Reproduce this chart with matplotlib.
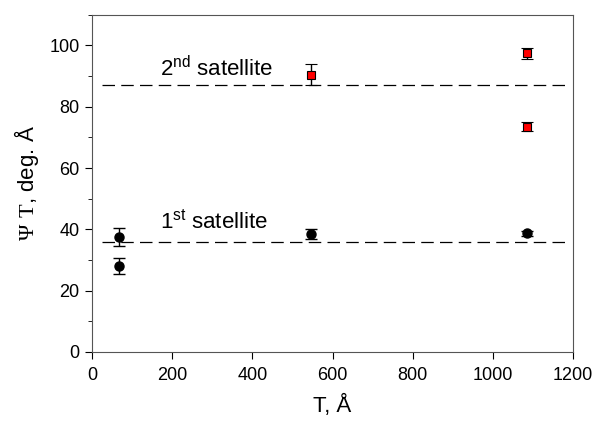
import matplotlib
matplotlib.use('Agg')
import matplotlib.pyplot as plt
from matplotlib.ticker import MultipleLocator

plt.rcParams['font.family'] = ['Liberation Sans', 'DejaVu Sans']
plt.rcParams['mathtext.fontset'] = 'custom'
plt.rcParams['mathtext.rm'] = 'Liberation Sans'
plt.rcParams['mathtext.sf'] = 'Liberation Serif'

# first satellite (black circles)
x1 = [68, 68, 545, 1085]
y1 = [37.5, 28.0, 38.5, 38.7]
e1 = [3.0, 2.5, 1.5, 0.8]

# second satellite (red squares)
x2 = [545, 1085, 1085]
y2 = [90.5, 97.5, 73.5]
e2 = [3.3, 1.8, 1.5]

# reference levels
levels = [36, 87]
level_x = [25, 1185]

fig = plt.figure(figsize=(5.95, 4.24), dpi=100)
ax = fig.add_axes([0.155, 0.170, 0.808, 0.795])

for lv in levels:
    ax.plot(level_x, [lv, lv], color='black', lw=0.9, dashes=(10, 5), zorder=1)

ax.errorbar(x1, y1, yerr=e1, fmt='o', color='black', ms=6.5,
            ecolor='black', elinewidth=1, capsize=4, capthick=1, zorder=3)
ax.errorbar(x2, y2, yerr=e2, fmt='s', mfc='red', mec='black', mew=0.8, ms=6,
            ecolor='black', elinewidth=1, capsize=4, capthick=1, zorder=3)

ax.text(170, 90.0, '2$^{\\rm nd}$ satellite', fontsize=16)
ax.text(170, 40.3, '1$^{\\rm st}$ satellite', fontsize=16)

ax.set_xlim(0, 1200)
ax.set_ylim(0, 110)
ax.xaxis.set_major_locator(MultipleLocator(200))
ax.yaxis.set_major_locator(MultipleLocator(20))
ax.yaxis.set_minor_locator(MultipleLocator(10))
ax.tick_params(which='both', direction='out', labelsize=13)
ax.tick_params(which='major', length=5)
ax.tick_params(which='minor', length=3)
ax.tick_params(axis='x', pad=6)
ax.tick_params(axis='y', pad=4)

ax.set_xlabel('T, Å', fontsize=16, labelpad=8)
ax.set_ylabel('$\\mathsf{\\Psi\\ T}$, deg. Å', fontsize=16, labelpad=6)

for s in ax.spines.values():
    s.set_color('#555555')

fig.savefig('out.png', dpi=100)
